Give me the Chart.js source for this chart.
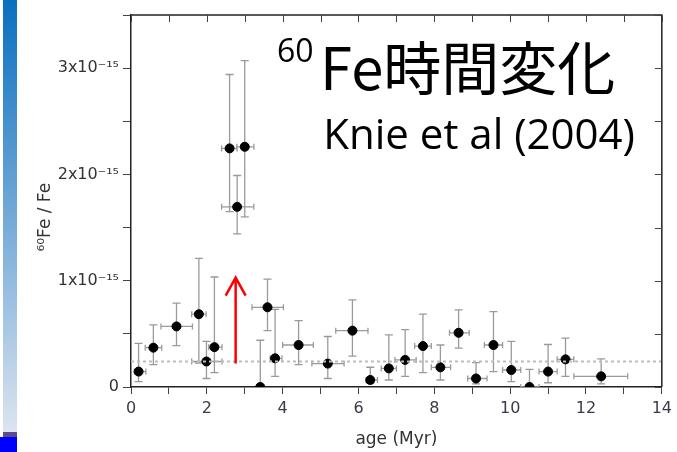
<!DOCTYPE html>
<html>
<head>
<meta charset="utf-8">
<script src="https://cdn.jsdelivr.net/npm/chart.js@4"></script>
<style>
  body { margin: 0; background: #fff; }
  #wrap { position: relative; width: 677px; height: 452px; overflow: hidden; }
  #bar { position: absolute; left: 3px; top: 0; width: 14px; height: 432px; background: linear-gradient(#0a6fc0, #dce4ef); }
  #strip { position: absolute; left: 3px; top: 432px; width: 14px; height: 5px; background: #5b4a8c; }
  #foot { position: absolute; left: 0; top: 437px; width: 17px; height: 15px; background: #0000ff; }
  canvas { position: absolute; left: 0; top: 0; }
</style>
</head>
<body>
<div id="wrap">
  <div id="bar"></div><div id="strip"></div><div id="foot"></div>
  <canvas id="chart-fe" width="677" height="452"></canvas>
</div>
<script>
// 60Fe/Fe ratio vs age, ratio in units of 1e-15
var age      = [0.2, 0.59, 1.2, 1.79, 1.99, 2.2, 2.6, 2.8, 3.0, 3.41, 3.6, 3.8, 4.42, 5.19, 5.84, 6.31, 6.8, 7.23, 7.7, 8.16, 8.64, 9.1, 9.56, 10.03, 10.51, 11.0, 11.46, 12.4];
var ageLow   = [0.09, 0.375, 0.79, 1.6, 1.6, 2.05, 2.39, 2.39, 2.79, 3.41, 3.19, 3.67, 4.0, 4.77, 5.4, 6.2, 6.6, 6.96, 7.48, 7.92, 8.4, 8.88, 9.32, 9.8, 10.28, 10.76, 11.24, 11.68];
var ageHigh  = [0.39, 0.81, 1.62, 1.98, 2.4, 2.4, 2.8, 3.24, 3.24, 3.41, 4.02, 3.98, 4.81, 5.62, 6.25, 6.5, 7.0, 7.52, 7.92, 8.43, 8.92, 9.39, 9.8, 10.28, 10.76, 11.24, 11.68, 13.1];
var ratio    = [0.145, 0.37, 0.57, 0.685, 0.24, 0.375, 2.245, 1.695, 2.26, 0.0, 0.75, 0.27, 0.395, 0.22, 0.53, 0.066, 0.175, 0.255, 0.385, 0.185, 0.51, 0.08, 0.395, 0.16, 0.0, 0.145, 0.26, 0.1];
var ratioLow = [0.05, 0.21, 0.39, 0.225, 0.08, 0.135, 1.65, 1.44, 1.6, -0.1, 0.53, 0.1, 0.21, 0.08, 0.29, 0.035, 0.066, 0.1, 0.135, 0.066, 0.365, 0.03, 0.145, 0.05, -0.1, 0.04, 0.1, 0.03];
var ratioHigh= [0.41, 0.585, 0.79, 1.21, 0.43, 1.035, 2.94, 1.99, 3.07, 0.44, 1.015, 0.73, 0.625, 0.475, 0.82, 0.186, 0.49, 0.54, 0.685, 0.395, 0.725, 0.23, 0.71, 0.43, 0.165, 0.4, 0.46, 0.265];
var background = 0.24;            // dotted background level
var arrowAge = 2.76, arrowFrom = 0.22, arrowTo = 1.03;

var points = age.map(function(a, i) { return {x: a, y: ratio[i]}; });

var errorBars = {
  id: 'errorBars',
  beforeDatasetsDraw: function(chart) {
    var ctx = chart.ctx, a = chart.chartArea, x = chart.scales.x, y = chart.scales.y;
    ctx.save();
    ctx.beginPath(); ctx.rect(a.left, a.top, a.right - a.left, a.bottom - a.top); ctx.clip();
    ctx.strokeStyle = '#9a9a9a'; ctx.lineWidth = 1.3;
    ctx.beginPath();
    age.forEach(function(v, i) {
      var px = x.getPixelForValue(v), py = y.getPixelForValue(ratio[i]);
      var y1 = y.getPixelForValue(ratioHigh[i]), y2 = y.getPixelForValue(ratioLow[i]);
      var x1 = x.getPixelForValue(ageLow[i]), x2 = x.getPixelForValue(ageHigh[i]);
      ctx.moveTo(px, y1); ctx.lineTo(px, y2);
      ctx.moveTo(px - 4, y1); ctx.lineTo(px + 4, y1);
      ctx.moveTo(px - 4, y2); ctx.lineTo(px + 4, y2);
      if (x2 - x1 > 1) {
        ctx.moveTo(x1, py); ctx.lineTo(x2, py);
        ctx.moveTo(x1, py - 3); ctx.lineTo(x1, py + 3);
        ctx.moveTo(x2, py - 3); ctx.lineTo(x2, py + 3);
      }
    });
    ctx.stroke();
    ctx.restore();
  },
  afterDraw: function(chart) {
    var ctx = chart.ctx, a = chart.chartArea, x = chart.scales.x, y = chart.scales.y;
    ctx.save();
    // top/right frame with inward ticks
    ctx.strokeStyle = '#222'; ctx.lineWidth = 1.5;
    ctx.beginPath();
    ctx.moveTo(a.left, a.top); ctx.lineTo(a.right, a.top); ctx.lineTo(a.right, a.bottom);
    ctx.stroke();
    ctx.strokeStyle = '#444'; ctx.lineWidth = 1;
    ctx.beginPath();
    x.ticks.forEach(function(t) {
      var px = Math.round(x.getPixelForValue(t.value)) + 0.5;
      ctx.moveTo(px, a.top); ctx.lineTo(px, a.top + 7);
    });
    y.ticks.forEach(function(t) {
      var py = Math.round(y.getPixelForValue(t.value)) + 0.5;
      ctx.moveTo(a.right, py); ctx.lineTo(a.right - 7, py);
    });
    ctx.stroke();
    // red arrow
    var ax = x.getPixelForValue(arrowAge), ay0 = y.getPixelForValue(arrowFrom), ay1 = y.getPixelForValue(arrowTo);
    ctx.strokeStyle = '#ff0000'; ctx.lineWidth = 2.5;
    ctx.beginPath();
    ctx.moveTo(ax, ay0); ctx.lineTo(ax, ay1);
    ctx.moveTo(ax - 10, ay1 + 18); ctx.lineTo(ax, ay1); ctx.lineTo(ax + 10, ay1 + 18);
    ctx.stroke();
    // headline
    ctx.fillStyle = '#000'; ctx.textBaseline = 'alphabetic'; ctx.textAlign = 'left';
    ctx.font = '32px "Open Sans"';
    ctx.fillText('60', 277, 62);
    ctx.font = '58px "Noto Sans CJK JP"';
    ctx.fillText('Fe時間変化', 320, 90);
    ctx.font = '42px "Open Sans"'; ctx.textAlign = 'right';
    ctx.fillText('Knie et al (2004)', 635, 149);
    ctx.restore();
  }
};

new Chart(document.getElementById('chart-fe'), {
  type: 'scatter',
  data: {
    datasets: [{
      type: 'line',
      data: [{x: 0, y: background}, {x: 14, y: background}],
      borderColor: '#bdbdbd', borderWidth: 2, borderDash: [3, 3],
      pointRadius: 0
    }, {
      data: points,
      backgroundColor: '#000', borderColor: '#000',
      pointRadius: 4.5, clip: 0
    }]
  },
  options: {
    responsive: false,
    animation: false,
    layout: { padding: { top: 15, right: 12, left: 0, bottom: 0 } },
    plugins: { legend: { display: false }, tooltip: { enabled: false } },
    scales: {
      x: {
        type: 'linear', min: 0, max: 14,
        afterFit: function(s) { s.height = 65; },
        ticks: {
          stepSize: 1, autoSkip: false, maxRotation: 0, padding: 5,
          color: '#3a3a4a', font: { family: 'DejaVu Sans', size: 16 },
          callback: function(v) { return v % 2 === 0 ? String(v) : ''; }
        },
        grid: { drawOnChartArea: false, drawTicks: true, tickLength: 7, color: '#444' },
        border: { display: true, color: '#222', width: 1.5 },
        title: { display: true, text: 'age (Myr)', color: '#333',
                 font: { family: 'DejaVu Sans', size: 17 }, padding: { top: 0, bottom: 2 } }
      },
      y: {
        type: 'linear', min: 0, max: 3.5,
        afterFit: function(s) { s.width = 131; },
        ticks: {
          stepSize: 0.5, autoSkip: false, padding: 4,
          color: '#333', font: { family: 'DejaVu Sans', size: 16 },
          callback: function(v) {
            if (!Number.isInteger(v)) return '';
            return v === 0 ? '0' : v + 'x10⁻¹⁵';
          }
        },
        grid: { drawOnChartArea: false, drawTicks: true, tickLength: 8, color: '#444' },
        border: { display: true, color: '#222', width: 1.5 },
        title: { display: true, text: '⁶⁰Fe / Fe      ', color: '#333',
                 font: { family: 'DejaVu Sans', size: 17 }, padding: { top: 35, bottom: 0 } }
      }
    }
  },
  plugins: [errorBars]
});
</script>
</body>
</html>
